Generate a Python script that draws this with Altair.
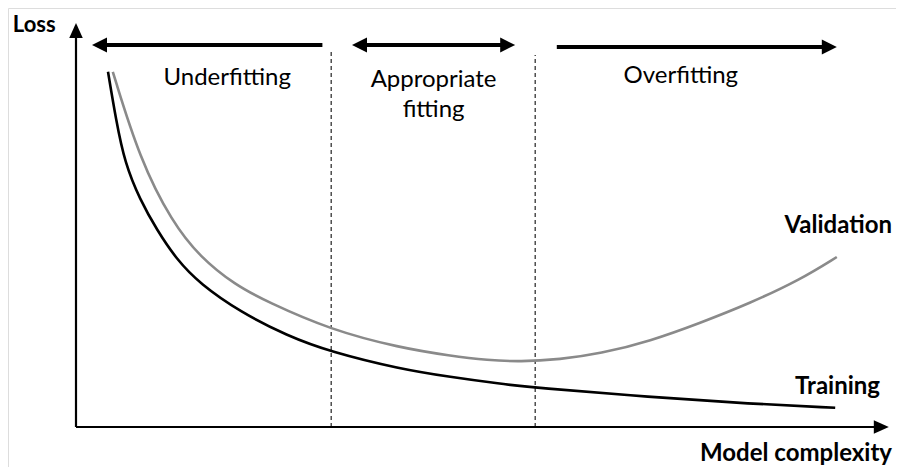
import altair as alt
import pandas as pd

# ---------------- data (model complexity vs loss, arbitrary units) ----------------
train_x = [0.40, 0.50, 0.61, 0.80, 1.01, 1.26, 1.55, 2.05, 2.64, 3.18, 4.05, 4.68, 5.30, 5.74, 7.18, 8.43, 9.49]
train_y = [8.88, 7.68, 6.60, 5.68, 4.93, 4.18, 3.58, 2.88, 2.28, 1.88, 1.45, 1.25, 1.08, 0.98, 0.75, 0.58, 0.48]

valid_x = [0.46, 0.80, 1.20, 1.55, 1.99, 2.39, 3.18, 4.05, 4.68, 5.15, 5.55, 6.05, 6.55, 7.18, 7.80, 8.43, 9.05, 9.51]
valid_y = [8.88, 6.68, 5.13, 4.25, 3.55, 3.13, 2.43, 1.98, 1.78, 1.67, 1.63, 1.69, 1.83, 2.15, 2.60, 3.10, 3.68, 4.25]

boundaries = [3.19, 5.74]          # dashed region separators
boundary_top = [9.40, 9.30]

# top arrows: (start, end, y)
arrow_x1 = [3.08, 3.45, 6.01]
arrow_x2 = [0.20, 5.49, 9.51]
arrow_y = [9.55, 9.55, 9.50]

region_labels = ["Underfitting", "Appropriate", "fitting", "Overfitting"]
region_x = [1.89, 4.47, 4.47, 7.56]
region_y = [8.55, 8.50, 7.75, 8.60]

series_labels = ["Validation", "Training", "Model complexity"]
series_lx = [10.20, 10.05, 10.20]
series_ly = [4.85, 0.83, -0.85]

axis_title = ["Loss"]
axis_title_x = [-0.79]
axis_title_y = [9.875]

x_max = 10.16
y_max = 10.10

# ---------------- helpers ----------------
XS = alt.Scale(domain=[-0.85, 10.25], nice=False, zero=False)
YS = alt.Scale(domain=[-1.0, 10.475], nice=False, zero=False)


def X(f):
    return alt.X(f, type="quantitative", scale=XS, axis=None)


def Y(f):
    return alt.Y(f, type="quantitative", scale=YS, axis=None)


FONT = "Lato"

curves = pd.DataFrame(
    {"x": train_x + valid_x,
     "y": train_y + valid_y,
     "series": ["Training"] * len(train_x) + ["Validation"] * len(valid_x)}
)

lines = alt.Chart(curves).mark_line(interpolate="basis", strokeWidth=2.6).encode(
    x=X("x"), y=Y("y"),
    color=alt.Color("series:N", scale=alt.Scale(domain=["Training", "Validation"],
                                               range=["#000000", "#8a8a8a"]), legend=None),
    detail="series:N",
)

# axes
axes_df = pd.DataFrame({"x": [0, 0], "y": [0, 0], "x2": [x_max - 0.12, 0], "y2": [0, y_max - 0.25]})
axes = alt.Chart(axes_df).mark_rule(color="black", strokeWidth=2.2).encode(
    x=X("x"), y=Y("y"), x2="x2:Q", y2="y2:Q")

head_up = alt.Chart(pd.DataFrame({"x": [0], "y": [y_max]})).mark_point(
    shape="M0,0L-0.45,1L0.45,1Z", size=900, filled=True, color="black", opacity=1, strokeWidth=0
).encode(x=X("x"), y=Y("y"))
head_right_axis = alt.Chart(pd.DataFrame({"x": [x_max], "y": [0]})).mark_point(
    shape="M0,0L-1,-0.45L-1,0.45Z", size=900, filled=True, color="black", opacity=1, strokeWidth=0
).encode(x=X("x"), y=Y("y"))

# dashed boundaries
dash_df = pd.DataFrame({"x": boundaries, "y": [0, 0], "y2": boundary_top})
dashes = alt.Chart(dash_df).mark_rule(color="#333333", strokeWidth=1.3, strokeDash=[4, 3]).encode(
    x=X("x"), y=Y("y"), y2="y2:Q")

# top arrows
shaft_df = pd.DataFrame({
    "x": [arrow_x1[0], arrow_x1[1] + 0.12, arrow_x1[2]],
    "x2": [arrow_x2[0] + 0.12, arrow_x2[1] - 0.12, arrow_x2[2] - 0.12],
    "y": arrow_y,
})
shafts = alt.Chart(shaft_df).mark_rule(color="black", strokeWidth=4).encode(
    x=X("x"), x2="x2:Q", y=Y("y"))

left_heads = alt.Chart(pd.DataFrame({"x": [arrow_x2[0], arrow_x1[1]], "y": [arrow_y[0], arrow_y[1]]})).mark_point(
    shape="M0,0L1,-0.5L1,0.5Z", size=900, filled=True, color="black", opacity=1, strokeWidth=0
).encode(x=X("x"), y=Y("y"))
right_heads = alt.Chart(pd.DataFrame({"x": [arrow_x2[1], arrow_x2[2]], "y": [arrow_y[1], arrow_y[2]]})).mark_point(
    shape="M0,0L-1,-0.5L-1,0.5Z", size=900, filled=True, color="black", opacity=1, strokeWidth=0
).encode(x=X("x"), y=Y("y"))

# texts
region_text = alt.Chart(pd.DataFrame({"t": region_labels, "x": region_x, "y": region_y})).mark_text(
    font=FONT, fontSize=24, color="black", align="center", baseline="alphabetic"
).encode(x=X("x"), y=Y("y"), text="t:N")

series_text = alt.Chart(pd.DataFrame({"t": series_labels, "x": series_lx, "y": series_ly})).mark_text(
    font=FONT, fontSize=24, fontWeight="bold", color="black", align="right", baseline="alphabetic"
).encode(x=X("x"), y=Y("y"), text="t:N")

loss_text = alt.Chart(pd.DataFrame({"t": axis_title, "x": axis_title_x, "y": axis_title_y})).mark_text(
    font=FONT, fontSize=22, fontWeight="bold", color="black", align="left", baseline="alphabetic"
).encode(x=X("x"), y=Y("y"), text="t:N")

chart = alt.layer(
    dashes, lines, axes, head_up, head_right_axis, shafts, left_heads, right_heads,
    region_text, series_text, loss_text
).properties(
    width=888, height=459, padding=0, autosize=alt.AutoSizeParams(type="none")
).configure_view(stroke=None).configure(background="white")

chart.save("out.html", embed_options={"renderer": "svg", "actions": False})
